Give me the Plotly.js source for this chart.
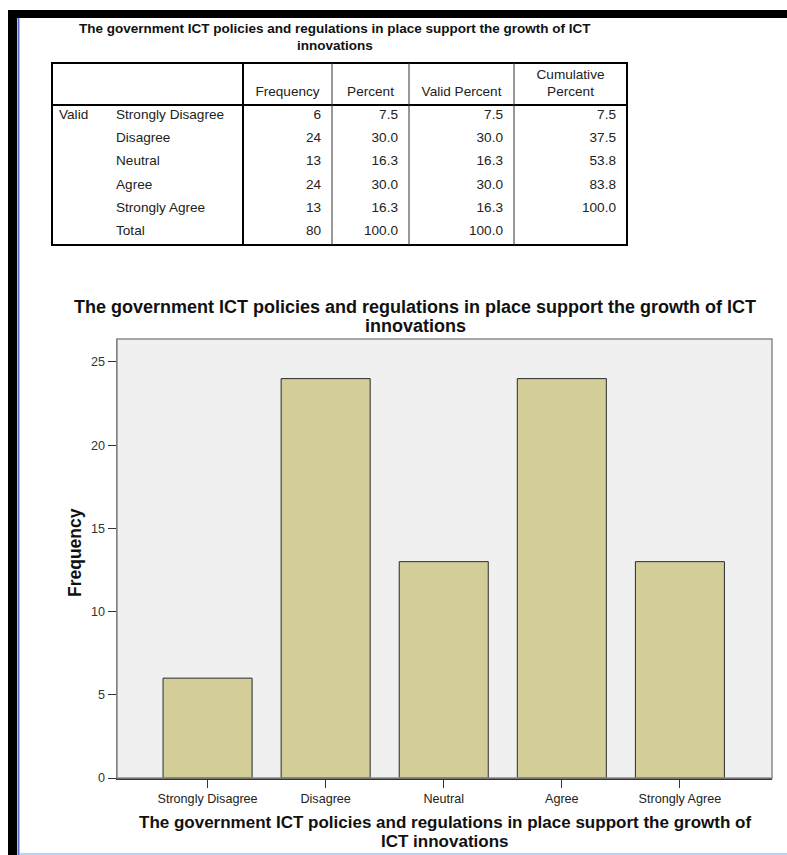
<!DOCTYPE html>
<html>
<head>
<meta charset="utf-8">
<script src="https://cdn.plot.ly/plotly-3.0.1.min.js"></script>
<style>
  html, body { margin: 0; padding: 0; background: #ffffff; }
  #chart { width: 787px; height: 855px; }
</style>
</head>
<body>
<div id="chart"></div>
<script>
// ---------- data ----------
const categories = ["Strongly Disagree", "Disagree", "Neutral", "Agree", "Strongly Agree"];
const frequency = [6, 24, 13, 24, 13];
const percent = [7.5, 30.0, 16.3, 30.0, 16.3];
const validPercent = [7.5, 30.0, 16.3, 30.0, 16.3];
const cumulativePercent = [7.5, 37.5, 53.8, 83.8, 100.0];
const totalFrequency = 80;
const totalPercent = 100.0;
const totalValidPercent = 100.0;
const rowGroupLabel = "Valid";
const totalLabel = "Total";
const headerLabels = ["Frequency", "Percent", "Valid Percent", "Cumulative<br>Percent"];
const titleLine1 = "The government ICT policies and regulations in place support the growth of ICT";
const titleLine2 = "innovations";
const xTitleLine1 = "The government ICT policies and regulations in place support the growth of";
const xTitleLine2 = "ICT innovations";
const yTitle = "Frequency";
const yTicks = [0, 5, 10, 15, 20, 25];

// ---------- layout constants (page pixels) ----------
const W = 787, H = 855;
const plotL = 117, plotR = 772, plotT = 339, plotB = 778;
const tblEdges = [52, 243, 332, 409, 514, 627];
const tblTop = 63, tblHeadBottom = 105, tblBottom = 245;
const rowStart = 104, rowH = 23.2;
const FONT = "Liberation Sans, Arial, sans-serif";

// ---------- table text (full-page pixel axes x2/y2) ----------
const rowY = i => rowStart + rowH * (i + 0.5);
const rightX = c => tblEdges[c + 1] - 11;

const leftX = [], leftY = [], leftT = [];
leftX.push(59); leftY.push(rowY(0)); leftT.push(rowGroupLabel);
categories.forEach((c, i) => { leftX.push(116); leftY.push(rowY(i)); leftT.push(c); });
leftX.push(116); leftY.push(rowY(categories.length)); leftT.push(totalLabel);

const numCols = [
  frequency.map(v => String(v)).concat([String(totalFrequency)]),
  percent.map(v => v.toFixed(1)).concat([totalPercent.toFixed(1)]),
  validPercent.map(v => v.toFixed(1)).concat([totalValidPercent.toFixed(1)]),
  cumulativePercent.map(v => v.toFixed(1))
];
const rX = [], rY = [], rT = [];
numCols.forEach((col, c) => {
  col.forEach((t, i) => { rX.push(rightX(c + 1)); rY.push(rowY(i)); rT.push(t); });
});

const hX = [], hY = [], hT = [];
headerLabels.forEach((h, c) => {
  const parts = h.split("<br>");
  const cx = (tblEdges[c + 1] + tblEdges[c + 2]) / 2;
  parts.forEach((p, k) => {
    hX.push(cx);
    hY.push(93 - (parts.length - 1 - k) * 17);
    hT.push(p);
  });
});

const tableFont = { family: FONT, size: 13.6, color: "#222" };

const traces = [
  {
    type: "bar",
    x: categories,
    y: frequency,
    marker: { color: "#d3ce97", line: { color: "#2a2a2a", width: 1 } },
    hoverinfo: "x+y",
    xaxis: "x", yaxis: "y"
  },
  {
    type: "scatter", mode: "text", x: leftX, y: leftY, text: leftT,
    textposition: "middle right", textfont: tableFont,
    xaxis: "x2", yaxis: "y2", hoverinfo: "skip", cliponaxis: false
  },
  {
    type: "scatter", mode: "text", x: rX, y: rY, text: rT,
    textposition: "middle left", textfont: tableFont,
    xaxis: "x2", yaxis: "y2", hoverinfo: "skip", cliponaxis: false
  },
  {
    type: "scatter", mode: "text", x: hX, y: hY, text: hT,
    textposition: "middle center", textfont: tableFont,
    xaxis: "x2", yaxis: "y2", hoverinfo: "skip", cliponaxis: false
  }
];

// ---------- shapes ----------
const shapes = [
  // plot background and frame
  { type: "rect", xref: "x domain", yref: "y domain", x0: 0, x1: 1, y0: 0, y1: 1, fillcolor: "#f0f0f0", line: { width: 0 }, layer: "below" },
  { type: "rect", xref: "x domain", yref: "y domain", x0: 0, x1: 1, y0: 0, y1: 1, line: { color: "#8a8a8a", width: 1.5 }, layer: "above" },
  // outer window frame
  { type: "rect", xref: "x2", yref: "y2", x0: 8, x1: 787, y0: 10, y1: 18, fillcolor: "#000", line: { width: 0 }, layer: "above" },
  { type: "rect", xref: "x2", yref: "y2", x0: 8, x1: 17, y0: 10, y1: 855, fillcolor: "#000", line: { width: 0 }, layer: "above" },
  { type: "line", xref: "x2", yref: "y2", x0: 18.5, x1: 18.5, y0: 18, y1: 855, line: { color: "#5b6fd6", width: 2 }, layer: "above" },
  { type: "line", xref: "x2", yref: "y2", x0: 20, x1: 787, y0: 854, y1: 854, line: { color: "#b9d5f2", width: 2 }, layer: "above" },
  // table
  { type: "rect", xref: "x2", yref: "y2", x0: tblEdges[0], x1: tblEdges[5], y0: tblTop, y1: tblBottom, line: { color: "#000", width: 2 }, layer: "above" },
  { type: "line", xref: "x2", yref: "y2", x0: tblEdges[0], x1: tblEdges[5], y0: tblHeadBottom, y1: tblHeadBottom, line: { color: "#000", width: 2 }, layer: "above" },
  { type: "line", xref: "x2", yref: "y2", x0: tblEdges[1], x1: tblEdges[1], y0: tblTop, y1: tblBottom, line: { color: "#000", width: 2 }, layer: "above" },
  { type: "line", xref: "x2", yref: "y2", x0: tblEdges[2], x1: tblEdges[2], y0: tblTop, y1: tblBottom, line: { color: "#333", width: 1 }, layer: "above" },
  { type: "line", xref: "x2", yref: "y2", x0: tblEdges[3], x1: tblEdges[3], y0: tblTop, y1: tblBottom, line: { color: "#333", width: 1 }, layer: "above" },
  { type: "line", xref: "x2", yref: "y2", x0: tblEdges[4], x1: tblEdges[4], y0: tblTop, y1: tblBottom, line: { color: "#333", width: 1 }, layer: "above" }
];

// ---------- annotations ----------
const annotations = [
  { xref: "x2", yref: "y2", x: 335, y: 28, text: "<b>" + titleLine1 + "</b>", showarrow: false, font: { family: FONT, size: 13.5, color: "#111" }, xanchor: "center", yanchor: "middle" },
  { xref: "x2", yref: "y2", x: 335, y: 45, text: "<b>" + titleLine2 + "</b>", showarrow: false, font: { family: FONT, size: 13.5, color: "#111" }, xanchor: "center", yanchor: "middle" },
  { xref: "x2", yref: "y2", x: 415, y: 326, text: "<b>" + titleLine2 + "</b>", showarrow: false, font: { family: FONT, size: 18, color: "#111" }, xanchor: "center", yanchor: "middle" },
  { xref: "x2", yref: "y2", x: 445, y: 822, text: "<b>" + xTitleLine1 + "</b>", showarrow: false, font: { family: FONT, size: 17, color: "#111" }, xanchor: "center", yanchor: "middle" },
  { xref: "x2", yref: "y2", x: 445, y: 841, text: "<b>" + xTitleLine2 + "</b>", showarrow: false, font: { family: FONT, size: 17, color: "#111" }, xanchor: "center", yanchor: "middle" },
  { xref: "x2", yref: "y2", x: 75, y: 553, text: "<b>" + yTitle + "</b>", showarrow: false, textangle: -90, font: { family: FONT, size: 17.5, color: "#111" }, xanchor: "center", yanchor: "middle" }
];

const layout = {
  width: W, height: H,
  margin: { l: 0, r: 0, t: 0, b: 0, pad: 0 },
  paper_bgcolor: "#ffffff",
  plot_bgcolor: "rgba(0,0,0,0)",
  showlegend: false,
  bargap: 0.246,
  title: {
    text: "<b>" + titleLine1 + "</b>",
    font: { family: FONT, size: 18, color: "#111" },
    x: 415 / W, xanchor: "center", xref: "paper",
    y: 1 - 307 / H, yanchor: "middle", yref: "paper"
  },
  xaxis: {
    domain: [plotL / W, plotR / W],
    range: [-0.767, 4.78],
    anchor: "y",
    showgrid: false, zeroline: false,
    showline: true, linecolor: "#333", linewidth: 1.5,
    ticks: "outside", ticklen: 8, tickwidth: 1, tickcolor: "#333",
    tickfont: { family: FONT, size: 12.6, color: "#222" },
    fixedrange: true
  },
  yaxis: {
    domain: [1 - plotB / H, 1 - plotT / H],
    range: [0, 26.38],
    anchor: "x",
    tickvals: yTicks,
    showgrid: false, zeroline: false,
    showline: true, linecolor: "#666", linewidth: 1.5,
    ticks: "outside", ticklen: 8, tickwidth: 1, tickcolor: "#333",
    tickfont: { family: FONT, size: 12.6, color: "#333" },
    fixedrange: true
  },
  xaxis2: { domain: [0, 1], range: [0, W], visible: false, fixedrange: true, anchor: "y2", showgrid: false, zeroline: false },
  yaxis2: { domain: [0, 1], range: [H, 0], visible: false, fixedrange: true, anchor: "x2", showgrid: false, zeroline: false },
  shapes: shapes,
  annotations: annotations
};

Plotly.newPlot("chart", traces, layout, { displayModeBar: false, staticPlot: true });
</script>
</body>
</html>
